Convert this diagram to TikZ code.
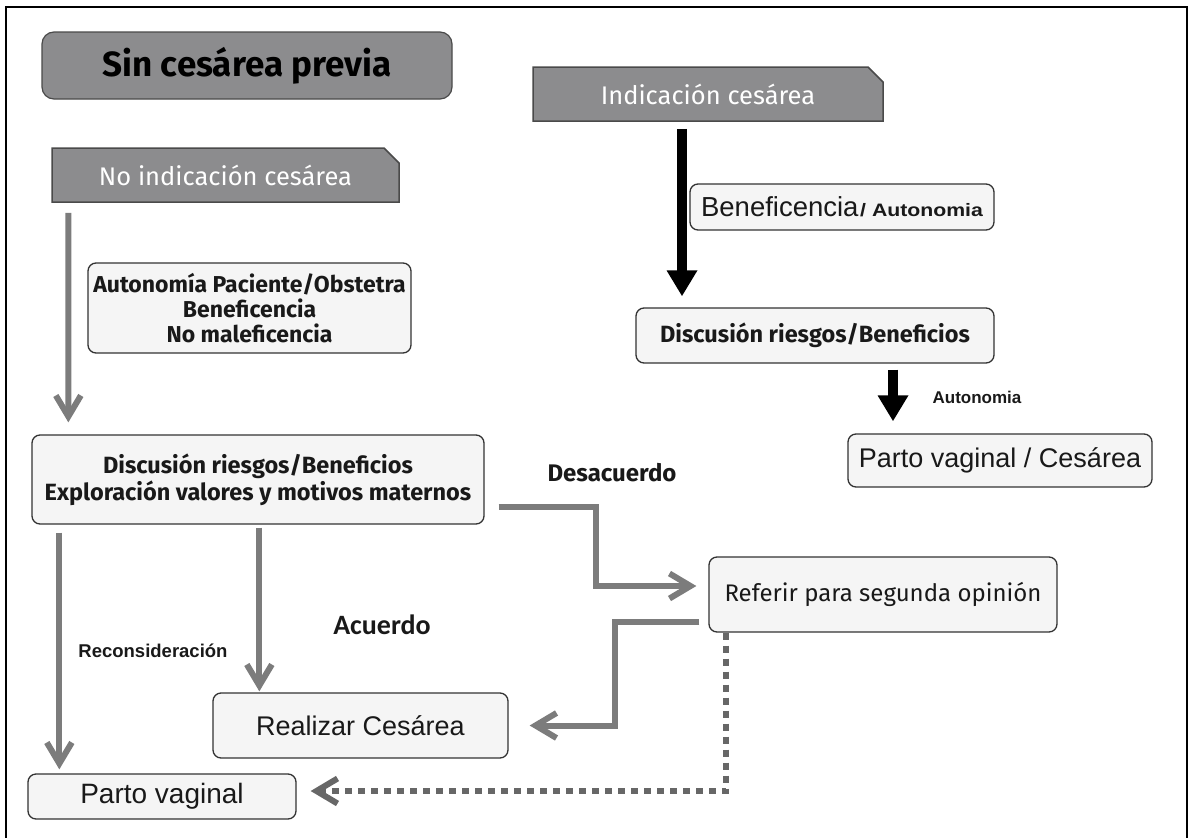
\documentclass[tikz,border=0pt]{standalone}
\usepackage{fontspec}
\usetikzlibrary{arrows.meta,shapes.misc,calc}
\newfontfamily\fira{Fira Sans}
\newfontfamily\libs{Liberation Sans}
\newfontfamily\carl{Carlito}
\definecolor{hdfill}{HTML}{8C8C8E}
\definecolor{hddraw}{HTML}{4A4A4A}
\definecolor{bxfill}{HTML}{F5F5F5}
\definecolor{bxdraw}{HTML}{333333}
\definecolor{arr}{HTML}{7C7C7C}
\definecolor{dotc}{HTML}{676767}
\tikzset{
  hdround/.style={rounded corners=12pt, fill=hdfill, draw=hddraw, line width=1.2pt, inner sep=0pt},
  hdsnip/.style={chamfered rectangle, chamfered rectangle corners=north east,
     chamfered rectangle xsep=7pt, chamfered rectangle ysep=8pt,
     fill=hdfill, draw=hddraw, line width=1.5pt, inner sep=0pt, text=white},
  wbox/.style={rounded corners=8pt, fill=bxfill, draw=bxdraw, line width=1.3pt, inner sep=0pt, align=center, text=black!90},
  garrow/.style={draw=arr, line width=6pt, -{Straight Barb[length=21pt,width=25pt]}},
  barrow/.style={draw=black, line width=10pt, -{Triangle[length=26pt,width=29pt]}},
  dotarrow/.style={draw=dotc, line width=6pt, dash pattern=on 7pt off 6pt, -{Straight Barb[length=21pt,width=25pt]}},
  lbl/.style={inner sep=0pt, text=black!90},
}
\begin{document}
\begin{tikzpicture}[x=1pt,y=-1pt]
\useasboundingbox (0,0) rectangle (1189,838);
\draw[line width=1.5pt] (6,838) -- (6,7) -- (1187,7) -- (1187,838);

% header boxes
\node[hdround, minimum width=410pt, minimum height=67pt, font=\fira\bfseries\fontsize{35}{39}\selectfont] (sin) at (247,65.5)
  {Sin cesárea previa};
\node[hdsnip, minimum width=347pt, minimum height=54pt, font=\fira\fontsize{25.5}{30}\selectfont] (noind) at (225.5,175)
  {No indicación cesárea};
\node[hdsnip, minimum width=350pt, minimum height=54pt, font=\fira\fontsize{25.5}{30}\selectfont] (ind) at (708,94)
  {Indicación cesárea};

% white boxes
\node[wbox, minimum width=304pt, minimum height=46pt] (benef) at (842,207)
  {{\libs\fontsize{27.5}{31}\selectfont Beneficencia}\,{\libs\bfseries\fontsize{18}{20}\selectfont\scalebox{1.18}[1]{/ Autonomia}}};
\node[wbox, minimum width=323pt, minimum height=90pt, font=\fira\bfseries\fontsize{23}{25}\selectfont] (auto) at (249.5,308)
  {Autonomía Paciente/Obstetra\\ Beneficencia\\ No maleficencia};
\node[wbox, minimum width=452pt, minimum height=89pt, font=\fira\bfseries\fontsize{23.5}{27}\selectfont] (disc1) at (258,479.5)
  {Discusión riesgos/Beneficios\\ Exploración valores y motivos maternos};
\node[wbox, minimum width=358pt, minimum height=55pt, font=\fira\bfseries\fontsize{23.5}{27}\selectfont] (disc2) at (815,335.5)
  {Discusión riesgos/Beneficios};
\node[wbox, minimum width=304pt, minimum height=53pt, font=\libs\fontsize{27}{31}\selectfont] (pvc) at (1000,460.5)
  {Parto vaginal / Cesárea};
\node[wbox, minimum width=348pt, minimum height=75pt, font=\fira\fontsize{24}{28}\selectfont] (ref) at (883,594.5)
  {Referir para segunda opinión};
\node[wbox, minimum width=295pt, minimum height=65pt, font=\libs\fontsize{27}{31}\selectfont] (real) at (360.5,725.5)
  {Realizar Cesárea};
\node[wbox, minimum width=268pt, minimum height=45pt, font=\libs\fontsize{28}{32}\selectfont] (pv) at (162,796.5)
  {Parto vaginal};

% labels
\node[lbl, font=\libs\bfseries\fontsize{17}{19}\selectfont] (lauton) at (977,397) {Autonomia};
\node[lbl, font=\fira\bfseries\fontsize{24}{27}\selectfont] (ldes) at (612,473) {Desacuerdo};
\node[lbl, font=\carl\bfseries\fontsize{28}{31}\selectfont] (lacu) at (382,625) {Acuerdo};
\node[lbl, font=\libs\bfseries\fontsize{18.5}{20}\selectfont] (lrec) at (153,651) {Reconsideración};

% black arrows
\draw[barrow] ([shift={(-26,7)}]ind.south) -- ([shift={(-133,-11)}]disc2.north);
\draw[barrow] ([shift={(78,6)}]disc2.south) -- ([shift={(-107,-12)}]pvc.north);

% gray arrows
\draw[garrow] ([shift={(17,10)}]noind.south west) -- ([shift={(37,-12)}]disc1.north west);
\draw[garrow] ([shift={(28,8)}]disc1.south west) -- ([shift={(32,-4)}]pv.north west);
\draw[garrow] ([shift={(228,3)}]disc1.south west) -- ([shift={(47,-1)}]real.north west);
\draw[garrow] ([shift={(14,-18)}]disc1.south east) -| ([shift={(-112,-8.5)}]ref.west) -- ([shift={(-12,-8.5)}]ref.west);
\draw[garrow] ([shift={(-9,27.5)}]ref.west) -| ([shift={(106,0)}]real.east) -- ([shift={(21,0)}]real.east);
\draw[dotarrow] ([shift={(18,0)}]ref.south west) |- ([shift={(14,-5.5)}]pv.east);
\end{tikzpicture}
\end{document}
